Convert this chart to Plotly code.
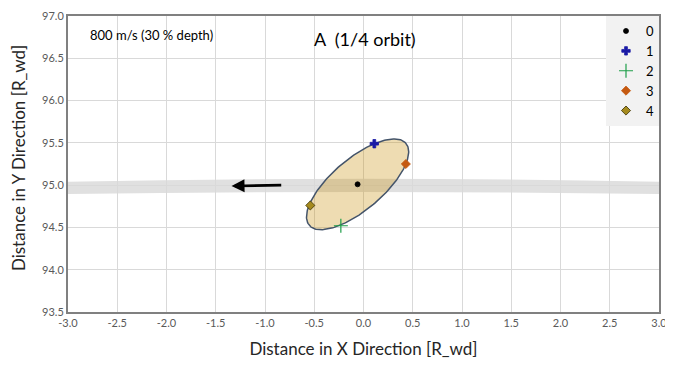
import numpy as np
import plotly.graph_objects as go

# --- data ---
point_names = ["0", "1", "2", "3", "4"]
point_x = [-0.06, 0.11, -0.23, 0.43, -0.54]
point_y = [95.01, 95.49, 94.52, 95.25, 94.76]
point_symbols = ["circle", "cross", "cross-thin", "diamond", "diamond"]
point_colors = ["#000000", "#1a1aa6", "#1f9e4a", "#c55a11", "#a58a1e"]
point_line_colors = ["#000000", "#1a1aa6", "#1f9e4a", "#c55a11", "#3a3000"]
point_sizes = [5, 7, 10, 7, 7]

arrow_tail = (-0.82, 95.00)
arrow_head = (-1.34, 94.99)

band_x = [-3.0, 0.0, 3.0]
band_top = [95.04, 95.075, 95.04]
band_bottom = [94.895, 94.92, 94.895]

x_ticks = [-3.0, -2.5, -2.0, -1.5, -1.0, -0.5, 0.0, 0.5, 1.0, 1.5, 2.0, 2.5, 3.0]
y_ticks = [93.5, 94.0, 94.5, 95.0, 95.5, 96.0, 96.5, 97.0]

FONT = "Lato, 'Liberation Sans', sans-serif"

fig = go.Figure()

# ellipse through conjugate points (1 & 3 with centre 0)
cx, cy = point_x[0], point_y[0]
ux, uy = point_x[1] - cx, point_y[1] - cy
vx, vy = point_x[3] - cx, point_y[3] - cy
t = np.linspace(0, 2 * np.pi, 200)
ex = cx + ux * np.cos(t) + vx * np.sin(t)
ey = cy + uy * np.cos(t) + vy * np.sin(t)
fig.add_trace(go.Scatter(x=ex, y=ey, mode="lines", fill="toself",
                         fillcolor="rgba(200,140,0,0.30)",
                         line=dict(color="#44546a", width=1.5),
                         showlegend=False, hoverinfo="skip"))

for i, name in enumerate(point_names):
    fig.add_trace(go.Scatter(
        x=[point_x[i]], y=[point_y[i]], mode="markers", name=name,
        marker=dict(symbol=point_symbols[i], size=point_sizes[i],
                    color=point_colors[i],
                    line=dict(color=point_line_colors[i],
                              width=1.2 if point_symbols[i] == "cross-thin" else 0.8))))

# band path (quadratic curves)
def qctrl(e0, m):
    return 2 * m - e0

path = (f"M {band_x[0]},{band_top[0]} Q {band_x[1]},{qctrl(band_top[0], band_top[1])} {band_x[2]},{band_top[2]} "
        f"L {band_x[2]},{band_bottom[2]} Q {band_x[1]},{qctrl(band_bottom[0], band_bottom[1])} {band_x[0]},{band_bottom[0]} Z")
fig.add_shape(type="path", path=path, xref="x", yref="y",
              fillcolor="#e0e0e0", line=dict(width=0), layer="below")

fig.add_annotation(x=arrow_head[0], y=arrow_head[1], ax=arrow_tail[0], ay=arrow_tail[1],
                   xref="x", yref="y", axref="x", ayref="y", text="",
                   showarrow=True, arrowhead=2, arrowsize=1.0, arrowwidth=2.6,
                   arrowcolor="#000000")

fig.add_annotation(x=0.141, y=0.936, xref="paper", yref="paper", text="800 m/s (30 % depth)",
                   xanchor="center", yanchor="middle",
                   showarrow=False, font=dict(family=FONT, size=13, color="#000000"))
fig.add_annotation(x=0.5025, y=0.922, xref="paper", yref="paper", text="A&nbsp; (1/4 orbit)",
                   xanchor="center", yanchor="middle",
                   showarrow=False, font=dict(family=FONT, size=18, color="#000000"))
# y-axis title
fig.add_annotation(x=-0.0846, y=0.52, xref="paper", yref="paper",
                   text="Distance in Y Direction [R_wd]", textangle=-90,
                   xanchor="center", yanchor="middle", showarrow=False,
                   font=dict(family=FONT, size=17, color="#262626"))

fig.update_layout(
    width=665, height=351,
    margin=dict(l=60, r=14, t=8, b=47, autoexpand=False),
    paper_bgcolor="white", plot_bgcolor="rgba(0,0,0,0)",
    font=dict(family=FONT, color="#595959"),
    legend=dict(x=1, y=1, xanchor="right", yanchor="top", bgcolor="#f2f2f2",
                font=dict(family=FONT, size=13, color="#000000"),
                borderwidth=0, tracegroupgap=0, itemwidth=30),
    xaxis=dict(range=[-3, 3], tickvals=x_ticks, ticktext=[f"{v:.1f}" for v in x_ticks],
               showgrid=True, gridcolor="#d9d9d9", gridwidth=1, zeroline=False,
               showline=True, linecolor="#808080", linewidth=2, mirror=True,
               ticks="", tickfont=dict(size=11, color="#595959"), automargin=False,
               ticklabeloverflow="allow",
               title=dict(text="Distance in X Direction [R_wd]", standoff=19,
                          font=dict(family=FONT, size=17, color="#262626"))),
    yaxis=dict(range=[93.5, 97], tickvals=y_ticks, ticktext=[f"{v:.1f}" for v in y_ticks],
               showgrid=True, gridcolor="#d9d9d9", gridwidth=1, zeroline=False,
               showline=True, linecolor="#808080", linewidth=2, mirror=True,
               ticks="", tickfont=dict(size=11, color="#595959"), automargin=False),
)

fig.write_html("out.html")
